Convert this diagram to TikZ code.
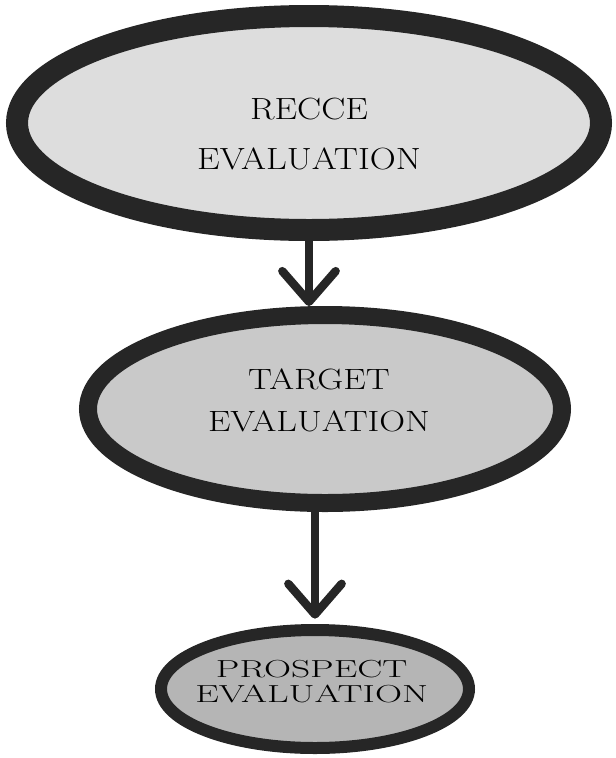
\documentclass[tikz,border=0pt]{standalone}
\usepackage{fontspec}
\usetikzlibrary{shapes.geometric,arrows.meta,positioning}

\tikzset{
  stage/.style={ellipse, draw=black!85, inner sep=0pt},
  caption/.style={align=center, inner sep=0pt},
  flow/.style={-{Straight Barb[length=23pt,width=40pt,round]}, line width=6.3pt, line cap=round, draw=black!85},
}
\newcommand{\wide}[2]{\scalebox{#1}[1]{#2}}

\begin{document}
\begin{tikzpicture}[x=0.75pt, y=-0.75pt]
  \useasboundingbox (0,0) rectangle (615,758);

  % the three stages
  \node[stage, line width=16.5pt, fill=gray!27, minimum width=438pt, minimum height=160.5pt] (recce) at (309,123) {};
  \node[stage, line width=13.5pt, fill=gray!42, minimum width=355.5pt, minimum height=141pt]
        (target) [below=48.75pt of recce, xshift=12pt] {};
  \node[stage, line width=9pt, fill=gray!58, minimum width=231pt, minimum height=88.5pt]
        (prospect) [below=84pt of target, xshift=-7.5pt] {};

  % names
  \node[caption, font=\fontsize{23}{37.5}\selectfont, yshift=-8.25pt] (recceName) at (recce)
        {\wide{1.175}{RECCE}\\\wide{1.175}{EVALUATION}};
  \node[caption, font=\fontsize{22}{31.5}\selectfont, xshift=-4.5pt, yshift=6.75pt] (targetName) at (target)
        {\wide{1.22}{TARGET}\\\wide{1.22}{EVALUATION}};
  \node[caption, font=\fontsize{18.5}{18.75}\selectfont, xshift=-2.5pt, yshift=5.25pt] (prospectName) at (prospect)
        {\wide{1.52}{PROSPECT}\\\wide{1.52}{EVALUATION}};

  \draw[flow] (recce.south) -- (recce.south |- target.north);
  \draw[flow, shorten >=4pt] (prospect.north |- target.south) -- (prospect.north);
\end{tikzpicture}
\end{document}
